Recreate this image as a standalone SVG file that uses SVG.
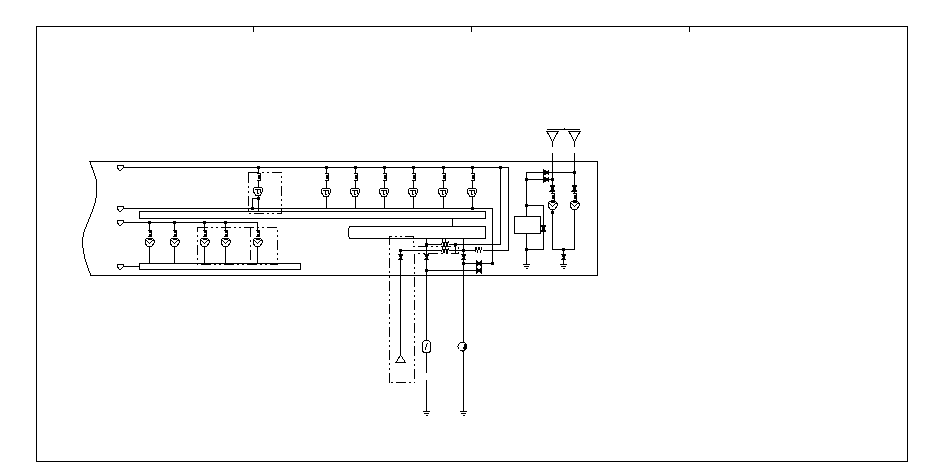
<svg xmlns="http://www.w3.org/2000/svg" width="950" height="475" viewBox="0 0 950 475">
<style>
.w{fill:none;stroke:#000;stroke-width:1}
.f{fill:#fff;stroke:#000;stroke-width:1}
.d{fill:none;stroke:#000;stroke-width:1;stroke-dasharray:10 3 2 3 2 3}
.n{fill:#000;stroke:none}
.b{fill:#fff;stroke:none}
svg{shape-rendering:crispEdges}
</style>
<defs>
<rect id="dot" class="n" x="-1.500" y="-1.500" width="3" height="3"/>
<g id="coil"><rect class="b" x="-3" y="-4" width="6" height="8"/><path class="w" d="M-2-3.500H2V-2H-1M-1-1H2V.5H-1M-1 1.500H2V3H-2"/></g>
<g id="lamp"><path class="f" d="M-3.500-4H3.500L4.500-3V0L2.500 3.500H-2.500L-4.500 0V-3Z"/><path class="w" d="M-3-2H2.500V1M-1-2V1.500H1"/></g>
<g id="lampRound"><path class="f" d="M-2.500-4H2.500L4.500-1.500V1L2.500 4H-2.500L-4.500 1V-1.500Z"/><path class="w" d="M-3-1.500L0 1.500L3-1.500M-2-3H2"/></g>
<g id="diodeV"><path class="n" d="M-3-3H3L1 1L3 3.500H-3L-1 1Z"/></g>
<g id="diodeH"><path class="n" d="M-2-3L1-1L3-3.500V3.500L1 1L-2 3Z"/><path class="w" d="M-2.500-3.500V3.500"/></g>
<path id="term" class="f" d="M-5-2.500H0.500V.5L-1.500 2.500H-3.500L-5 .5Z"/>
<path id="gnd" class="w" d="M-3.500 0H3.500M-2.500 2H2.500M-1 4H1"/>
<path id="ant" class="w" d="M-5.500 0H5.500L0 10.500Z"/>
<g id="hcoil"><rect class="b" x="-4" y="-3" width="8" height="5"/><path class="w" d="M-3.500 2L-2.500-2.500L-1 2L.5-2.500L2 2L3.500-2.500"/></g>
</defs>
<rect width="950" height="475" fill="#fff"/>
<g id="frame">
<path class="w" d="M36.500 26.500H907.500V461.500H36.500ZM253.500 26V32M471.500 26V32M689.500 26V32"/>
</g>
<g id="housing">
<path class="w" d="M90 161.500H597.500V275.500H91C85 262 80 247 84 232C90 215 97 205 97 188C97 175 92 170 90 161.500Z"/>
</g>
<g id="connectors">
<path class="w" d="M119.500 167.500H508.500V250.500H400.500V355M500.500 167.500V244.500H455.500V253"/>
<path class="w" d="M119.500 208.500H492.500V263.500H463.500M426.500 270.500H481"/>
<path class="w" d="M119.500 222.500H257.500V263M119.500 266.500H139M452.500 219V226"/>
<path class="w" d="M326.500 167V208M355.500 167V208M384.500 167V208M413.500 167V208M443.500 167V208M472.500 167V208M258.500 167V211M149.500 222V263M174.500 222V263M204.500 222V263M225.500 222V263"/>
<path class="w" d="M252.500 208V198.500H258"/>
<path class="w" d="M426.500 239V373M426.500 380V411M463.500 239V411M426.500 244.500H455"/>
<path class="w" d="M552.500 142V147M574.500 142V147M552.500 153V249.500H574.500V153M526.500 172.500H574.500M526.500 179.500H552M526.500 172V216M526.500 234V264M526.500 205.500H543.500V249.500H526.500M563.500 249.500V264M547 129.500H580M564.500 128V129"/>
</g>
<g id="boxes">
<path class="d" d="M248.500 172.500H281.500V213.500H248.500Z"/>
<path class="d" d="M197.500 227.500H277.500V264.500H197.500Z"/>
<path class="d" d="M250.500 227V264"/>
<path class="d" d="M389.500 382.500V236.500H413.500V246.500H458.500V253.500H414.500V382.500H389.500"/>
</g>
<g id="bus-1"><path class="w" d="M139.500 211.500H485.500V218.500H139.500Z"/></g>
<g id="bus-2"><path class="w" d="M349.500 226.500H485.500V238.500H349.500L348.500 236V229Z"/></g>
<g id="bus-3"><path class="w" d="M139.500 263.500H300.500V269.500H139.500Z"/></g>
<g id="relay"><rect class="f" x="514.500" y="216.500" width="26" height="17"/></g>
<g id="terminals">
<use href="#term" x="122.500" y="167.500"/><use href="#term" x="122.500" y="208.500"/><use href="#term" x="122.500" y="222.500"/><use href="#term" x="122.500" y="266.500"/>
</g>
<g id="lamps">
<use href="#lamp" x="326" y="192.500"/><use href="#lamp" x="355" y="192.500"/><use href="#lamp" x="384" y="192.500"/><use href="#lamp" x="413" y="192.500"/><use href="#lamp" x="443" y="192.500"/><use href="#lamp" x="472" y="192.500"/><use href="#lamp" x="258" y="191.500"/>
<use href="#lampRound" x="149.500" y="242"/><use href="#lampRound" x="174.500" y="242"/><use href="#lampRound" x="204.500" y="242"/><use href="#lampRound" x="225.500" y="242"/><use href="#lampRound" x="257.500" y="242"/><use href="#lampRound" x="552.500" y="205"/><use href="#lampRound" x="574.500" y="205"/>
</g>
<g id="coils">
<use href="#coil" x="326.500" y="177"/><use href="#coil" x="355.500" y="177"/><use href="#coil" x="384.500" y="177"/><use href="#coil" x="413.500" y="177"/><use href="#coil" x="443.500" y="177"/><use href="#coil" x="472.500" y="177"/><use href="#coil" x="258.500" y="177"/>
<use href="#coil" x="149.500" y="233.500"/><use href="#coil" x="174.500" y="233.500"/><use href="#coil" x="204.500" y="233.500"/><use href="#coil" x="225.500" y="233.500"/><use href="#coil" x="257.500" y="233.500"/><use href="#coil" x="552.500" y="197"/><use href="#coil" x="574.500" y="197"/>
<use href="#hcoil" x="445" y="243.500"/><use href="#hcoil" x="445" y="250.500"/><use href="#hcoil" x="478.500" y="249.500"/>
</g>
<g id="diodes">
<use href="#diodeV" x="400.500" y="256.500"/><use href="#diodeV" x="426.500" y="256.500"/><use href="#diodeV" x="463.500" y="256.500"/><use href="#diodeV" x="552.500" y="188"/><use href="#diodeV" x="574.500" y="188"/><use href="#diodeV" x="563.500" y="256.500"/><use href="#diodeV" x="543.500" y="228"/>
<use href="#diodeH" x="546" y="172.500"/><use href="#diodeH" x="546" y="179.500"/><use href="#diodeH" x="478.500" y="263.500"/><use href="#diodeH" x="478.500" y="270.500"/>
</g>
<g id="junctions">
<use href="#dot" x="258.500" y="167.500"/><use href="#dot" x="326.500" y="167.500"/><use href="#dot" x="355.500" y="167.500"/><use href="#dot" x="384.500" y="167.500"/><use href="#dot" x="413.500" y="167.500"/><use href="#dot" x="443.500" y="167.500"/><use href="#dot" x="472.500" y="167.500"/><use href="#dot" x="500.500" y="167.500"/>
<use href="#dot" x="252.500" y="208.500"/><use href="#dot" x="258.500" y="198.500"/><use href="#dot" x="472.500" y="208.500"/>
<use href="#dot" x="149.500" y="222.500"/><use href="#dot" x="174.500" y="222.500"/><use href="#dot" x="204.500" y="222.500"/><use href="#dot" x="225.500" y="222.500"/>
<use href="#dot" x="426.500" y="244.500"/><use href="#dot" x="455.500" y="244.500"/><use href="#dot" x="400.500" y="250.500"/><use href="#dot" x="463.500" y="250.500"/><use href="#dot" x="463.500" y="263.500"/><use href="#dot" x="492.500" y="263.500"/><use href="#dot" x="426.500" y="270.500"/>
<use href="#dot" x="574.500" y="172.500"/><use href="#dot" x="526.500" y="179.500"/><use href="#dot" x="552.500" y="179.500"/><use href="#dot" x="526.500" y="205.500"/><use href="#dot" x="526.500" y="249.500"/><use href="#dot" x="563.500" y="249.500"/><use href="#dot" x="552.500" y="212"/>
</g>
<g id="grounds">
<use href="#gnd" x="426.500" y="411.500"/><use href="#gnd" x="463.500" y="411.500"/><use href="#gnd" x="526.500" y="264.500"/><use href="#gnd" x="563.500" y="264.500"/>
</g>
<g id="antennas">
<use href="#ant" x="552.500" y="131.500"/><use href="#ant" x="574.500" y="131.500"/>
<path class="f" d="M396 362.500H405.500L400.500 355Z"/>
</g>
<g id="sensor-1"><rect class="f" x="422.500" y="340.500" width="8" height="12" rx="3"/><path class="w" d="M425 350L427.500 343"/></g>
<g id="sensor-2"><circle class="f" cx="462.500" cy="346.500" r="4.500"/><path class="n" d="M465 342.500L467 345L465 350L463 349Z"/></g>
</svg>
